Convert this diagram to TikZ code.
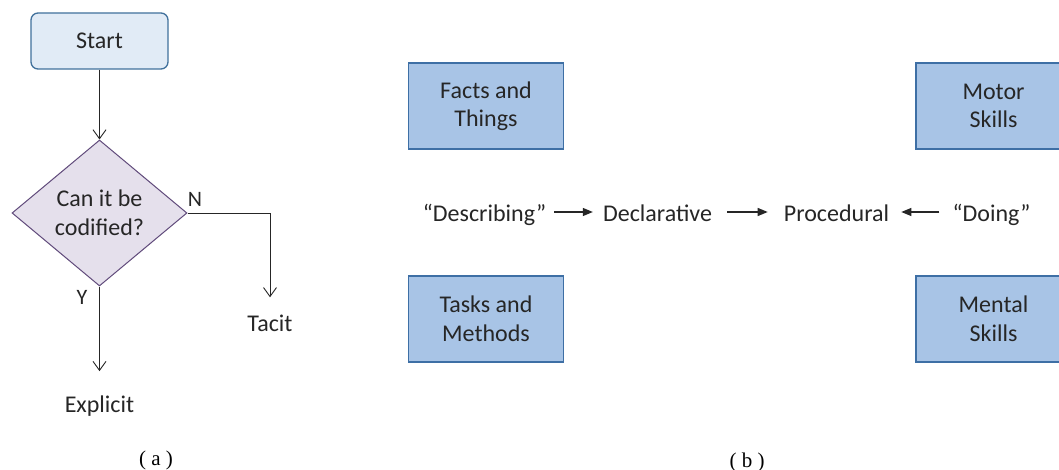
\documentclass[tikz,border=0pt]{standalone}
\usepackage{fontspec}
\setmainfont{Carlito}
\newfontfamily\capfont{Liberation Serif}
\usetikzlibrary{shapes.geometric,arrows.meta}
\definecolor{txt}{HTML}{262626}
\definecolor{startfill}{HTML}{E1EBF6}
\definecolor{startdraw}{HTML}{41719C}
\definecolor{diafill}{HTML}{E5E0EC}
\definecolor{diadraw}{HTML}{604A7B}
\definecolor{boxfill}{HTML}{A8C4E6}
\definecolor{boxdraw}{HTML}{3E6FA5}
\begin{document}
\begin{tikzpicture}[x=1pt,y=-1pt,
  every node/.style={text=txt, font=\fontsize{24}{28.5}\selectfont, inner sep=0pt, align=center},
  startbox/.style={draw=startdraw, fill=startfill, line width=1.3pt, rounded corners=7pt, minimum width=137pt, minimum height=56pt},
  decision/.style={diamond, aspect=1.2, draw=diadraw, fill=diafill, line width=1pt, minimum width=175pt, minimum height=146pt},
  catbox/.style={draw=boxdraw, fill=boxfill, line width=1.3pt, minimum width=155pt, minimum height=86pt},
  rowtext/.style={text height=20pt, text depth=0pt},
  yn/.style={font=\fontsize{22}{26}\selectfont},
  caption/.style={font=\capfont\fontsize{21}{24}\selectfont, text=black},
  openarrow/.style={draw=txt, line width=0.9pt, -{Straight Barb[length=9pt,width=13pt]}},
  fillarrow/.style={draw=txt, line width=1.1pt, -{Triangle[length=10pt,width=8pt]}}
]
\clip (0,0) rectangle (1059,470);
\fill[white] (0,0) rectangle (1059,470);

% (a) flowchart
\node[startbox] (start) at (99.5,41) {Start};
\node[decision] (dec) at (99.5,213) {Can it be\\codified?};
\node[anchor=base] (tacit) at (270,331) {Tacit};
\node[anchor=base] (explicit) at (99.5,412) {Explicit};
\node[yn] (nlab) at (195,199.5) {N};
\node[yn] (ylab) at (82,297) {Y};
\draw[openarrow] (start) -- (dec);
\draw[openarrow] (dec.east) -| ([yshift=17pt]tacit.north);
\draw[openarrow] (dec.south) -- ([yshift=24pt]explicit.north);
\node[caption] (capa) at (156,460) {( a )};

% (b)
\node[catbox] (facts) at (486,106) {Facts and\\Things};
\node[catbox] (tasks) at (486,319) {Tasks and\\Methods};
\node[catbox] (motor) at (993.5,106) {Motor\\Skills};
\node[catbox] (mental) at (993.5,319) {Mental\\Skills};
\node[rowtext] (describing) at (484.5,212) {“Describing”};
\node[rowtext] (declarative) at (657.5,212) {Declarative};
\node[rowtext] (procedural) at (836.5,212) {Procedural};
\node[rowtext] (doing) at (991.5,212) {“Doing”};
\draw[fillarrow, shorten <=8pt, shorten >=10pt] (describing) -- (declarative);
\draw[fillarrow, shorten <=15pt, shorten >=16pt] (declarative) -- (procedural);
\draw[fillarrow, shorten <=13pt, shorten >=12pt] (doing) -- (procedural);
\node[caption] (capb) at (747,462) {( b )};
\end{tikzpicture}
\end{document}
